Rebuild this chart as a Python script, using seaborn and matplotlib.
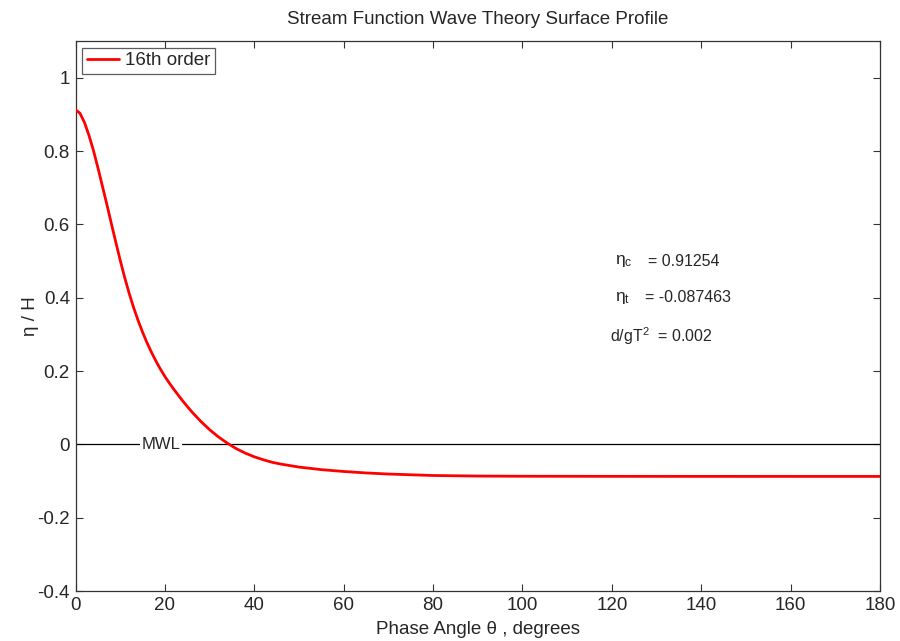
import matplotlib
matplotlib.use("Agg")
import matplotlib.pyplot as plt
import seaborn as sns
import pandas as pd

# Data
phase_deg = [0, 1, 2, 3, 4, 5, 6, 7, 8, 9, 10, 11, 12, 13, 14, 15, 16, 17, 18,
             19, 20, 21, 22, 24, 26, 28, 30, 32, 34, 36, 38, 40, 42, 44, 46,
             50, 55, 60, 65, 70, 80, 90, 100, 120, 140, 160, 180]
eta_over_h = [0.9125, 0.903, 0.878, 0.843, 0.802, 0.755, 0.705, 0.655, 0.603,
              0.552, 0.502, 0.455, 0.412, 0.373, 0.338, 0.306, 0.277, 0.251,
              0.227, 0.205, 0.185, 0.167, 0.150, 0.118, 0.089, 0.063, 0.040,
              0.020, 0.003, -0.012, -0.024, -0.034, -0.042, -0.049, -0.054,
              -0.062, -0.069, -0.074, -0.078, -0.081, -0.085, -0.0865,
              -0.087, -0.0873, -0.0874, -0.08746, -0.087463]
series_label = "16th order"
x_ticks = [0, 20, 40, 60, 80, 100, 120, 140, 160, 180]
y_ticks = [-0.4, -0.2, 0, 0.2, 0.4, 0.6, 0.8, 1.0]
y_tick_labels = ["-0.4", "-0.2", "0", "0.2", "0.4", "0.6", "0.8", "1"]
eta_c = "0.91254"
eta_t = "-0.087463"
d_gT2 = "0.002"

sns.set_style("ticks")
plt.rcParams["font.family"] = ["Liberation Sans", "DejaVu Sans"]
plt.rcParams["mathtext.fontset"] = "custom"
plt.rcParams["mathtext.rm"] = "Liberation Sans"
plt.rcParams["mathtext.it"] = "Liberation Sans"
plt.rcParams["mathtext.cal"] = "Liberation Sans"

df = pd.DataFrame({"theta": phase_deg, "eta": eta_over_h, "series": series_label})

fig = plt.figure(figsize=(9, 6.41), dpi=100)
ax = fig.add_axes([0.0839, 0.078, 0.8939, 0.858])

ax.axhline(0, color="black", lw=0.9, zorder=1)
sns.lineplot(data=df, x="theta", y="eta", hue="series", palette=["#ff0000"],
             lw=2.0, ax=ax, zorder=3, sort=True)

ax.set_xlim(0, 180)
ax.set_ylim(-0.4, 1.1)
ax.set_xticks(x_ticks)
ax.set_xticklabels([str(t) for t in x_ticks])
ax.set_yticks(y_ticks)
ax.set_yticklabels(y_tick_labels)
ax.tick_params(direction="in", top=True, right=True, length=5, width=0.8,
               labelsize=13.5, pad=4, color="#333333")
for s in ax.spines.values():
    s.set_color("#333333")
    s.set_linewidth(0.9)

ax.set_xlabel("Phase Angle \u03b8 , degrees", fontsize=13.5, labelpad=5)
ax.set_ylabel("\u03b7 / H", fontsize=13.5, labelpad=-1.5)
ax.set_title("Stream Function Wave Theory Surface Profile", fontsize=13.5, pad=12)

ax.text(19.1, 0, "MWL", fontsize=12, ha="center", va="center", zorder=2,
        bbox=dict(facecolor="white", edgecolor="none", pad=1.0))

ax.text(120.8, 0.5, r"$\eta_{c}$", fontsize=12.5, ha="left", va="center")
ax.text(128.0, 0.5, "= " + eta_c, fontsize=11.5, ha="left", va="center")
ax.text(120.8, 0.4, r"$\eta_{t}$", fontsize=12.5, ha="left", va="center")
ax.text(127.5, 0.4, "= " + eta_t, fontsize=11.5, ha="left", va="center")
ax.text(119.6, 0.294, r"d/gT$^{2}$  = " + d_gT2, fontsize=11.5, ha="left", va="center")

leg = ax.legend(loc="upper left", fontsize=13.5, frameon=True, fancybox=False,
                handlelength=1.7, borderpad=0.25, handletextpad=0.35,
                borderaxespad=0.35)
leg.get_frame().set_edgecolor("#333333")
leg.get_frame().set_linewidth(0.9)

fig.savefig("out.png", dpi=100)
